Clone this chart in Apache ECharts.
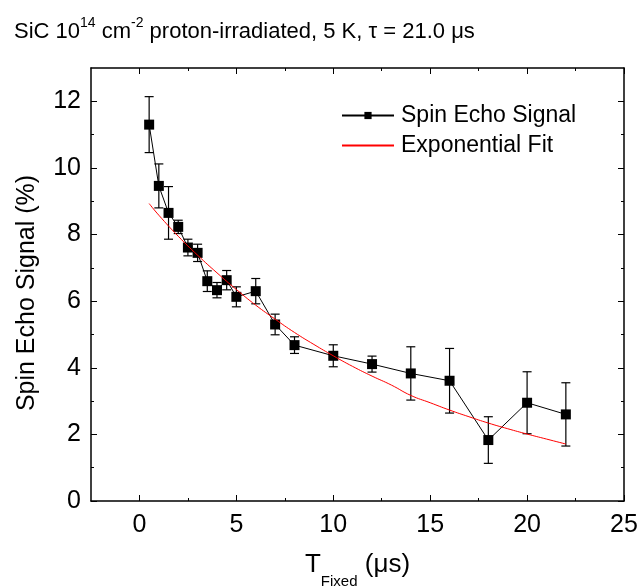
<!DOCTYPE html>
<html>
<head>
<meta charset="utf-8">
<script src="https://cdn.jsdelivr.net/npm/echarts@6/dist/echarts.min.js"></script>
<style>
html,body{margin:0;padding:0;background:#fff;}
#chart{width:641px;height:586px;}
</style>
</head>
<body>
<div id="chart"></div>
<script>
var tFixed = [0.5, 1, 1.5, 2, 2.5, 3, 3.5, 4, 4.5, 5, 6, 7, 8, 10, 12, 14, 16, 18, 20, 22];
var signal = [11.3, 9.46, 8.65, 8.23, 7.61, 7.45, 6.6, 6.33, 6.63, 6.13, 6.3, 5.3, 4.68, 4.36, 4.11, 3.83, 3.61, 1.83, 2.95, 2.6];
var signalErr = [0.84, 0.66, 0.79, 0.2, 0.25, 0.26, 0.31, 0.23, 0.29, 0.3, 0.38, 0.31, 0.25, 0.33, 0.24, 0.8, 0.97, 0.7, 0.93, 0.95];
var fitX = [0.5, 1, 2, 3, 4, 5, 6, 7, 8, 9, 10, 11, 12, 13, 14, 15, 16, 17, 18, 19, 20, 21, 22];
var fitY = [8.93, 8.58, 7.95, 7.38, 6.85, 6.35, 5.88, 5.46, 5.06, 4.70, 4.36, 4.04, 3.75, 3.48, 3.17, 2.95, 2.73, 2.53, 2.34, 2.17, 2.01, 1.86, 1.71];
var xMajorTicks = [0, 5, 10, 15, 20, 25];
var xMinorTicks = [2.5, 7.5, 12.5, 17.5, 22.5];
var yMajorTicks = [0, 2, 4, 6, 8, 10, 12];
var yMinorTicks = [1, 3, 5, 7, 9, 11];

var FONT = '"Liberation Sans", Arial, sans-serif';
var FS = 23;
var TICKFS = 25;
var NAMEFS = 25;

var pts = tFixed.map(function (x, i) { return [x, signal[i]]; });
var errData = tFixed.map(function (x, i) { return [x, signal[i] - signalErr[i], signal[i] + signalErr[i]]; });
var fitData = fitX.map(function (x, i) { return [x, fitY[i]]; });

function xAx(pos, ticks, len, showLine, showLabel) {
  return {
    type: 'value', position: pos, min: -2.5, max: 25,
    axisLine: { show: showLine, onZero: false, lineStyle: { color: '#000', width: 1.5 } },
    axisTick: { show: true, inside: true, length: len, customValues: ticks, lineStyle: { color: '#000', width: 1 } },
    axisLabel: showLabel ? { show: true, customValues: xMajorTicks, color: '#000', fontSize: TICKFS, fontFamily: FONT, margin: 12 } : { show: false },
    splitLine: { show: false }
  };
}
function yAx(pos, ticks, len, showLine, showLabel) {
  return {
    type: 'value', position: pos, min: 0, max: 13,
    axisLine: { show: showLine, onZero: false, lineStyle: { color: '#000', width: 1.5 } },
    axisTick: { show: true, inside: true, length: len, customValues: ticks, lineStyle: { color: '#000', width: 1 } },
    axisLabel: showLabel ? { show: true, customValues: yMajorTicks, color: '#000', fontSize: TICKFS, fontFamily: FONT, margin: 10 } : { show: false },
    splitLine: { show: false }
  };
}

var xAxes = [
  xAx('bottom', xMajorTicks, 6, true, true),
  xAx('bottom', xMinorTicks, 3, false, false),
  xAx('top', xMajorTicks, 6, true, false),
  xAx('top', xMinorTicks, 3, false, false)
];
xAxes[0].name = '{a|T}{s|Fixed}{a| (μs)}';
xAxes[0].nameLocation = 'middle';
xAxes[0].nameGap = 39;
xAxes[0].nameTextStyle = {
  color: '#000', fontFamily: FONT,
  rich: {
    a: { fontSize: 26, fontFamily: FONT, color: '#000', lineHeight: 49 },
    s: { fontSize: 15, fontFamily: FONT, color: '#000', lineHeight: 15, verticalAlign: 'bottom' }
  }
};
var yAxes = [
  yAx('left', yMajorTicks, 6, true, true),
  yAx('left', yMinorTicks, 3, false, false),
  yAx('right', yMajorTicks, 6, true, false),
  yAx('right', yMinorTicks, 3, false, false)
];
yAxes[0].name = 'Spin Echo Signal (%)';
yAxes[0].nameLocation = 'middle';
yAxes[0].nameGap = 51;
yAxes[0].nameTextStyle = { color: '#000', fontSize: NAMEFS, fontFamily: FONT, padding: [0, 17, 0, 0] };

var chart = echarts.init(document.getElementById('chart'));
chart.setOption({
  backgroundColor: '#fff',
  animation: false,
  title: {
    left: 14, top: 16, padding: 0,
    text: '{a|SiC 10}{s|14}{a| cm}{s|-2}{a| proton-irradiated, 5 K, τ = 21.0 μs}',
    textStyle: {
      fontWeight: 'normal',
      rich: {
        a: { fontSize: 22, fontFamily: FONT, fontWeight: 'normal', color: '#000', lineHeight: 32 },
        s: { fontSize: 14, fontFamily: FONT, fontWeight: 'normal', color: '#000', lineHeight: 8, verticalAlign: 'top' }
      }
    }
  },
  grid: { left: 91, right: 17, top: 68, bottom: 85, containLabel: false, outerBoundsMode: 'none' },
  legend: {
    orient: 'vertical', left: 341, top: 104, padding: 0, itemWidth: 52, itemHeight: 9, itemGap: 7,
    textStyle: { color: '#000', fontSize: FS, fontFamily: FONT, padding: [0, 0, 0, 2] },
    data: [
      { name: 'Spin Echo Signal' },
      { name: 'Exponential Fit', itemStyle: { opacity: 0 } }
    ]
  },
  xAxis: xAxes,
  yAxis: yAxes,
  series: [
    {
      name: 'Error', type: 'custom', xAxisIndex: 0, yAxisIndex: 0, z: 2,
      data: errData,
      renderItem: function (params, api) {
        var x = api.value(0);
        var lo = api.coord([x, api.value(1)]);
        var hi = api.coord([x, api.value(2)]);
        var cap = 4.5;
        var st = { stroke: '#000', lineWidth: 1.2 };
        return {
          type: 'group',
          children: [
            { type: 'line', shape: { x1: lo[0], y1: lo[1], x2: hi[0], y2: hi[1] }, style: st },
            { type: 'line', shape: { x1: lo[0] - cap, y1: lo[1], x2: lo[0] + cap, y2: lo[1] }, style: st },
            { type: 'line', shape: { x1: hi[0] - cap, y1: hi[1], x2: hi[0] + cap, y2: hi[1] }, style: st }
          ]
        };
      }
    },
    {
      name: 'Spin Echo Signal', type: 'line', xAxisIndex: 0, yAxisIndex: 0, z: 3,
      data: pts, symbol: 'rect', symbolSize: 10, showSymbol: true,
      lineStyle: { color: '#000', width: 1 },
      itemStyle: { color: '#000', borderWidth: 0 }
    },
    {
      name: 'Exponential Fit', type: 'line', xAxisIndex: 0, yAxisIndex: 0, z: 4,
      data: fitData, smooth: true, showSymbol: false, symbol: 'none',
      lineStyle: { color: '#ff0000', width: 1 },
      itemStyle: { color: '#ff0000' }
    }
  ]
});
</script>
</body>
</html>
